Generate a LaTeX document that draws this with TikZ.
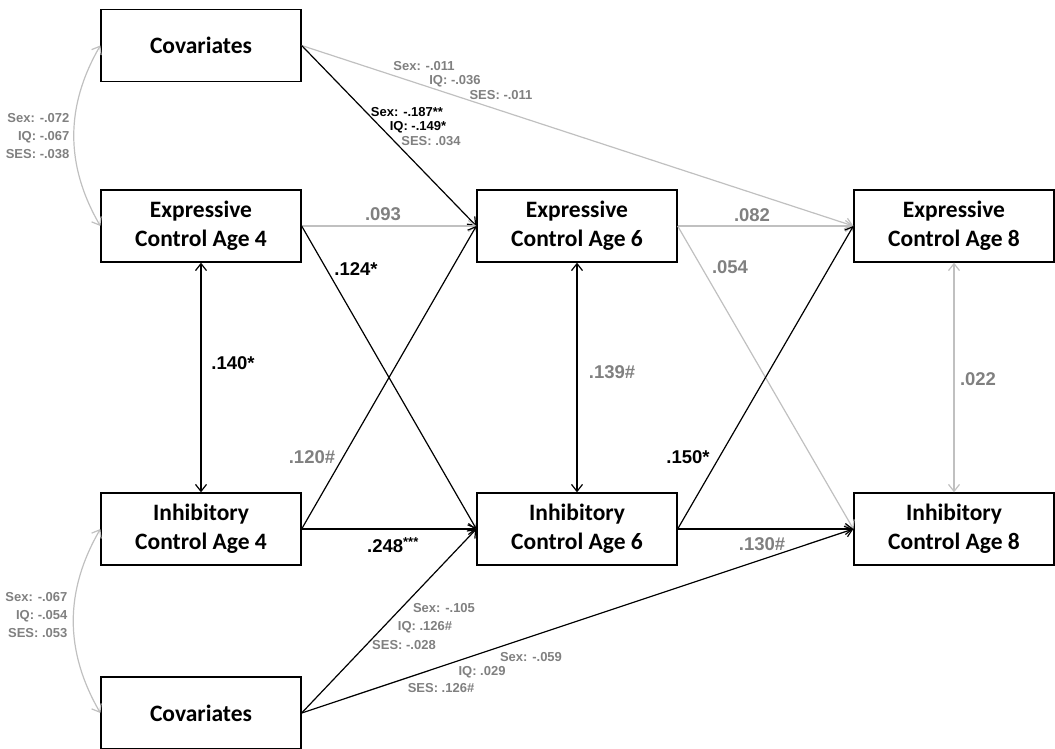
\documentclass[tikz,border=0pt]{standalone}
\usepackage{fontspec}
\usepackage{xcolor}
\usetikzlibrary{arrows.meta,positioning}
\newfontfamily\boxfont{Carlito}
\newfontfamily\labfont{Liberation Sans}
\definecolor{lblgray}{HTML}{808080}
\definecolor{lingray}{HTML}{C0C0C0}

\begin{document}
\begin{tikzpicture}[x=1pt,y=-1pt,->,>={Straight Barb[length=7pt,width=11pt]},line width=1.2pt]
	\tikzstyle{box}=[draw=black,line width=1.3pt,minimum width=200pt,minimum height=72pt,align=center,inner sep=0pt,font=\boxfont\bfseries\fontsize{23.5}{29}\selectfont]
	\tikzstyle{coef}=[inner sep=0pt,font=\labfont\bfseries\fontsize{18.5}{20}\selectfont]
	\tikzstyle{cov}=[inner sep=0pt,align=right,font=\labfont\bfseries\fontsize{13}{18}\selectfont]
	\tikzstyle{gr}=[draw=lingray]
	\useasboundingbox (0,0) rectangle (1055,749);
	\node[box]    (cov1) at (201,45.5)                             {Covariates};
	\node[box]    (exp4)[below of=cov1, node distance=180.5pt]     {Expressive\\Control Age 4};
	\node[box]    (inh4)[below of=exp4, node distance=303pt]       {Inhibitory\\Control Age 4};
	\node[box]    (cov2)[below of=inh4, node distance=184pt]       {Covariates};
	\node[box]    (exp6)[right of=exp4, node distance=376pt]       {Expressive\\Control Age 6};
	\node[box]    (inh6)[right of=inh4, node distance=376pt]       {Inhibitory\\Control Age 6};
	\node[box]    (exp8)[right of=exp6, node distance=377pt]       {Expressive\\Control Age 8};
	\node[box]    (inh8)[right of=inh6, node distance=377pt]       {Inhibitory\\Control Age 8};
	\path
	(cov1.east) edge[gr] (exp8.west)
	(cov1.east) edge (exp6.west)
	(exp4.east) edge[gr] (exp6.west)
	(exp4.east) edge (inh6.west)
	(inh4.east) edge (exp6.west)
	(inh4.east) edge (inh6.west)
	(exp6.east) edge[gr] (exp8.west)
	(exp6.east) edge[gr] (inh8.west)
	(inh6.east) edge (exp8.west)
	(inh6.east) edge (inh8.west)
	(cov2.east) edge (inh6.west)
	(cov2.east) edge (inh8.west)
	(exp4) edge[<->] (inh4)
	(exp6) edge[<->] (inh6)
	(exp8) edge[<->,gr] (inh8)
	(cov1.west) edge[<->,gr,bend right=30] (exp4.west)
	(inh4.west) edge[<->,gr,bend right=30] (cov2.west);
	% path coefficients
	\node[coef,text=lblgray] (c093) at (383,214) {.093};
	\node[coef]              (c124) at (356,269) {.124*};
	\node[coef]              (c140) at (233,363) {.140*};
	\node[coef,text=lblgray] (c120) at (312,457) {.120\#};
	\node[coef]              (c248) at (393,545) {.248\textsuperscript{***}};
	\node[coef,text=lblgray] (c139) at (612,372) {.139\#};
	\node[coef,text=lblgray] (c082) at (752,215) {.082};
	\node[coef,text=lblgray] (c054) at (730,267) {.054};
	\node[coef]              (c150) at (688,457) {.150*};
	\node[coef,text=lblgray] (c130) at (762,544) {.130\#};
	\node[coef,text=lblgray] (c022) at (978,379) {.022};
	% covariate effects
	\node[cov,text=lblgray] (sx1) at (424,66)  {Sex: -.011};
	\node[cov,text=lblgray] (iq1) at (455,81)  {IQ: -.036};
	\node[cov,text=lblgray] (ss1) at (501,95)  {SES: -.011};
	\node[cov]              (sx2) at (407,112) {Sex: -.187**};
	\node[cov]              (iq2) at (418,127) {IQ: -.149*};
	\node[cov,text=lblgray] (ss2) at (431,141) {SES: .034};
	\node[cov,text=lblgray] (sx3) at (444,608) {Sex: -.105};
	\node[cov,text=lblgray] (iq3) at (425,627) {IQ: .126\#};
	\node[cov,text=lblgray] (ss3) at (404,645) {SES: -.028};
	\node[cov,text=lblgray] (sx4) at (531,657) {Sex: -.059};
	\node[cov,text=lblgray] (iq4) at (482,672) {IQ: .029};
	\node[cov,text=lblgray] (ss4) at (441,688) {SES: .126\#};
	% covariances
	\node[cov,text=lblgray,anchor=east] (r1) at (70,136) {Sex: -.072\\IQ: -.067\\SES: -.038};
	\node[cov,text=lblgray,anchor=east] (r2) at (68,615) {Sex: -.067\\IQ: -.054\\SES: .053};
\end{tikzpicture}
\end{document}
